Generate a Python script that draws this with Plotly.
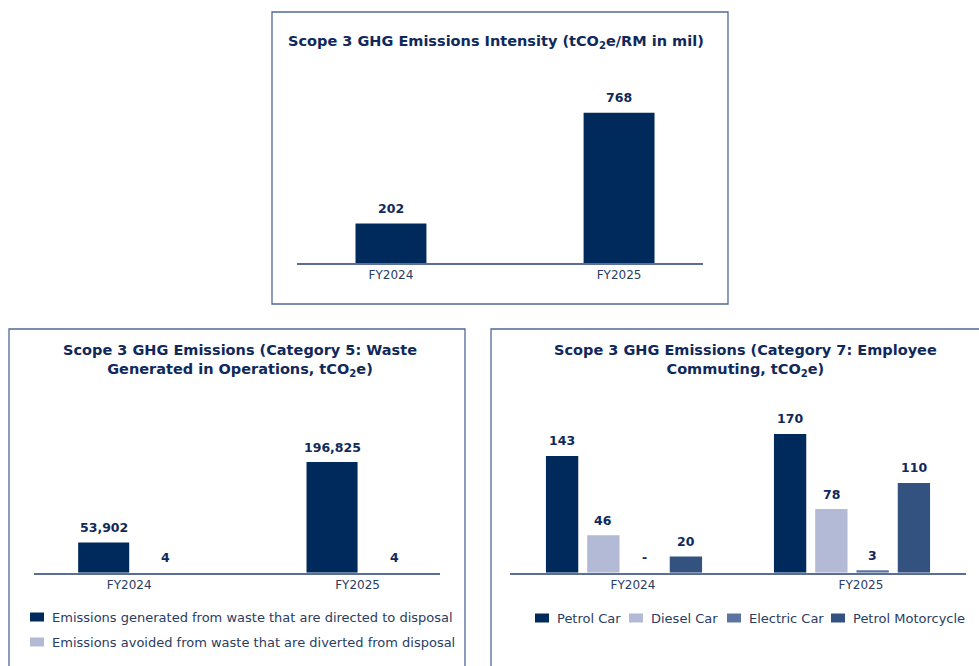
import plotly.graph_objects as go

# ---- data ----
years = ["FY2024", "FY2025"]

intensity = [202, 768]

waste_series = [
    "Emissions generated from waste that are directed to disposal",
    "Emissions avoided from waste that are diverted from disposal",
]
waste_disposal = [53902, 196825]
waste_diverted = [4, 4]

commute_series = ["Petrol Car", "Diesel Car", "Electric Car", "Petrol Motorcycle"]
petrol_car = [143, 170]
diesel_car = [46, 78]
electric_car = [0, 3]
petrol_motorcycle = [20, 110]

# ---- styling ----
W, H = 979, 666
FONT = "DejaVu Sans"
NAVY = "#002a5c"
LIGHT = "#b3bad6"
MID = "#5d74a2"
STEEL = "#33527f"
TITLE_C = "#10295a"
TICK_C = "#2a3c62"
BORDER = "#516997"
AXIS_C = "#5b6f96"


def px(x):
    return x / W


def py(y):
    return 1 - y / H


def label(v):
    return "-" if v == 0 else f"{v:,}"


fig = go.Figure()

# panel layout: x domain px, y domain px (bottom, top), y max, x range
panels = {
    "1": dict(xd=(297, 703), yd=(263, 80), ymax=936, xr=(-0.412, 1.368)),
    "2": dict(xd=(34, 440), yd=(572.7, 400), ymax=307300, xr=(-0.417, 1.361)),
    "3": dict(xd=(510, 966), yd=(572.7, 400), ymax=211.6, xr=(-0.5, 1.5)),
}

annotations = []
pos = list(range(len(years)))


def add_bars(axis, values, color, name, width, offset, lab_dx=0):
    xa = "x" if axis == "1" else "x" + axis
    ya = "y" if axis == "1" else "y" + axis
    fig.add_trace(go.Bar(
        x=pos, y=values, name=name, marker=dict(color=color, line_width=0),
        width=width, offset=offset, xaxis=xa, yaxis=ya, showlegend=False,
        hoverinfo="y",
    ))
    for p, v in zip(pos, values):
        annotations.append(dict(
            x=p + offset + width / 2, y=v, xref=xa, yref=ya,
            text=f"<b>{label(v)}</b>", showarrow=False, yanchor="middle",
            yshift=15, xshift=lab_dx,
            font=dict(family=FONT, size=12.5, color=TITLE_C),
        ))


# panel 1: intensity
w1 = 0.311
add_bars("1", intensity, NAVY, "Intensity", w1, -w1 / 2)

# panel 2: waste (two adjacent bars per year)
w2 = 0.2236
add_bars("2", waste_disposal, NAVY, waste_series[0], w2, -w2)
add_bars("2", waste_diverted, LIGHT, waste_series[1], w2, 0, lab_dx=11)

# panel 3: employee commuting (four bars per year)
w3, pitch3 = 0.1417, 0.181
commute = [petrol_car, diesel_car, electric_car, petrol_motorcycle]
commute_colors = [NAVY, LIGHT, MID, STEEL]
for i, (vals, col, nm) in enumerate(zip(commute, commute_colors, commute_series)):
    add_bars("3", vals, col, nm, w3, (i - 1.5) * pitch3 - w3 / 2)

layout_axes = {}
for k, p in panels.items():
    xname = "xaxis" if k == "1" else "xaxis" + k
    yname = "yaxis" if k == "1" else "yaxis" + k
    yanchor = "y" if k == "1" else "y" + k
    xanchor = "x" if k == "1" else "x" + k
    layout_axes[xname] = dict(
        domain=[px(p["xd"][0]), px(p["xd"][1])], range=list(p["xr"]),
        anchor=yanchor, tickvals=pos, ticktext=years, showgrid=False,
        zeroline=False, showline=True, linecolor=AXIS_C, linewidth=1.5,
        ticks="", tickfont=dict(family=FONT, size=12, color=TICK_C),
        ticklabelshift=9 if k == "3" else 0, fixedrange=True,
    )
    layout_axes[yname] = dict(
        domain=[py(p["yd"][0]), py(p["yd"][1])], range=[0, p["ymax"]],
        anchor=xanchor, visible=False, showgrid=False, zeroline=False,
        fixedrange=True,
    )

# titles
titles = [
    (496, 42, "Scope 3 GHG Emissions Intensity (tCO<sub>2</sub>e/RM in mil)"),
    (240, 360, "Scope 3 GHG Emissions (Category 5: Waste<br>Generated in Operations, tCO<sub>2</sub>e)"),
    (745, 360, "Scope 3 GHG Emissions (Category 7: Employee<br>Commuting, tCO<sub>2</sub>e)"),
]
for x, y, t in titles:
    annotations.append(dict(
        x=px(x), y=py(y), xref="paper", yref="paper", text=f"<b>{t}</b>",
        showarrow=False, xanchor="center", yanchor="middle", align="center",
        font=dict(family=FONT, size=14.5, color=TITLE_C),
    ))

shapes = []
# panel frames
for x0, y0, x1, y1 in [(272, 12, 728, 304), (9, 329, 465, 680), (491, 329, 990, 680)]:
    shapes.append(dict(type="rect", xref="paper", yref="paper",
                       x0=px(x0), x1=px(x1), y0=py(y1), y1=py(y0),
                       line=dict(color=BORDER, width=1.3), fillcolor="rgba(0,0,0,0)"))


# legend swatches + text
def legend_item(x, y, color, text):
    shapes.append(dict(type="rect", xref="paper", yref="paper",
                       x0=px(x), x1=px(x + 14), y0=py(y + 4.5), y1=py(y - 4.5),
                       line_width=0, fillcolor=color))
    annotations.append(dict(
        x=px(x + 19.5), y=py(y), xref="paper", yref="paper", text=text,
        showarrow=False, xanchor="left", yanchor="middle",
        font=dict(family=FONT, size=13, color=TICK_C),
    ))


legend_item(30, 617, NAVY, waste_series[0])
legend_item(30, 642, LIGHT, waste_series[1])
for x, col, nm in zip([535, 629, 727, 831], commute_colors, commute_series):
    legend_item(x, 618, col, nm)

fig.update_layout(
    width=W, height=H, margin=dict(l=0, r=0, t=0, b=0),
    paper_bgcolor="white", plot_bgcolor="white", barmode="overlay",
    showlegend=False, annotations=annotations, shapes=shapes,
    font=dict(family=FONT), **layout_axes,
)

fig.write_html("out.html")
